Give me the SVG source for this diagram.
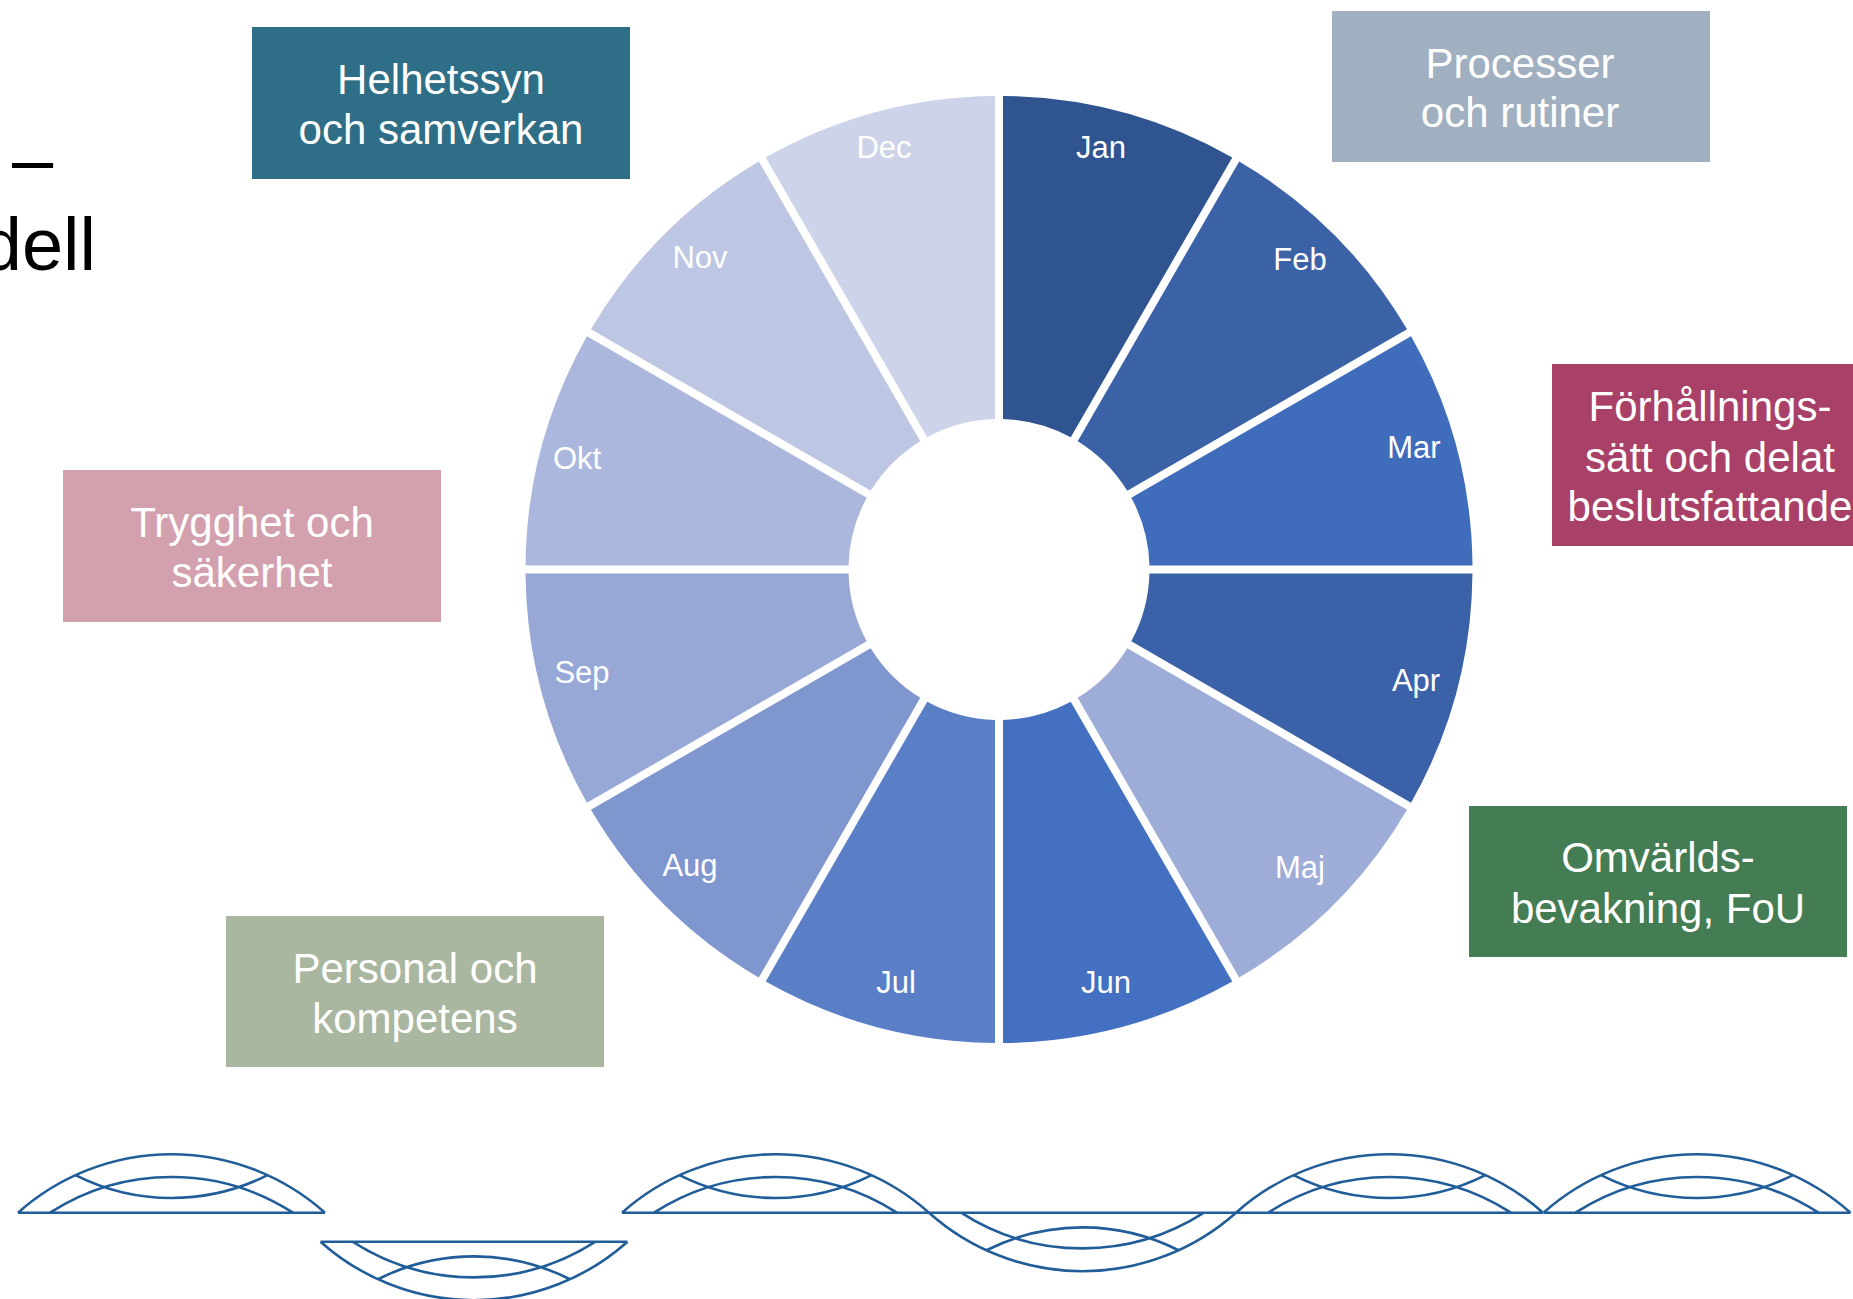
<svg xmlns="http://www.w3.org/2000/svg" xmlns:xlink="http://www.w3.org/1999/xlink" width="1853" height="1299" viewBox="0 0 1853 1299">
<style>
  .month { font-family: "Liberation Sans", Arial, sans-serif; font-size: 31px; fill: #ffffff; text-anchor: middle; }
  .box text { font-family: "Liberation Sans", Arial, sans-serif; font-size: 42px; fill: #ffffff; text-anchor: middle; }
  .title { font-family: "Liberation Sans", Arial, sans-serif; font-size: 74px; fill: #000000; }
  .wave { fill: none; stroke: #215d98; stroke-width: 2.6; }
</style>
<defs>
  <path id="seg" d="M4 -473.483 A473.5 473.5 0 0 1 233.28 -412.05 L71.76 -132.29 A150.5 150.5 0 0 0 4 -150.447 Z"/>
  <path id="arch" d="M-153.5 0 H153.5 M-153.5 0 A230.6 230.6 0 0 1 153.5 0 M-121.5 0 A224.6 224.6 0 0 1 121.5 0 M-96 -37.57 A212.9 212.9 0 0 0 96 -37.57"/>
</defs>
<rect width="1853" height="1299" fill="#ffffff"/>

<g id="title">
  <text class="title" x="12" y="184">–</text>
  <text class="title" x="96" y="270" text-anchor="end">dell</text>
</g>

<g id="wheel">
  <g id="m-jan"><use xlink:href="#seg" href="#seg" fill="#30548f" transform="translate(999 569.5) rotate(0)"/><text class="month" x="1101" y="158">Jan</text></g>
  <g id="m-feb"><use xlink:href="#seg" href="#seg" fill="#3b61a7" transform="translate(999 569.5) rotate(30)"/><text class="month" x="1300" y="270">Feb</text></g>
  <g id="m-mar"><use xlink:href="#seg" href="#seg" fill="#406dbb" transform="translate(999 569.5) rotate(60)"/><text class="month" x="1414" y="458">Mar</text></g>
  <g id="m-apr"><use xlink:href="#seg" href="#seg" fill="#3b62a9" transform="translate(999 569.5) rotate(90)"/><text class="month" x="1416" y="691">Apr</text></g>
  <g id="m-maj"><use xlink:href="#seg" href="#seg" fill="#9eadd7" transform="translate(999 569.5) rotate(120)"/><text class="month" x="1300" y="878">Maj</text></g>
  <g id="m-jun"><use xlink:href="#seg" href="#seg" fill="#4370c0" transform="translate(999 569.5) rotate(150)"/><text class="month" x="1106" y="993">Jun</text></g>
  <g id="m-jul"><use xlink:href="#seg" href="#seg" fill="#5b7fc7" transform="translate(999 569.5) rotate(180)"/><text class="month" x="896" y="993">Jul</text></g>
  <g id="m-aug"><use xlink:href="#seg" href="#seg" fill="#7f96cf" transform="translate(999 569.5) rotate(210)"/><text class="month" x="690" y="876">Aug</text></g>
  <g id="m-sep"><use xlink:href="#seg" href="#seg" fill="#97a8d6" transform="translate(999 569.5) rotate(240)"/><text class="month" x="582" y="683">Sep</text></g>
  <g id="m-okt"><use xlink:href="#seg" href="#seg" fill="#abb7dd" transform="translate(999 569.5) rotate(270)"/><text class="month" x="577" y="469">Okt</text></g>
  <g id="m-nov"><use xlink:href="#seg" href="#seg" fill="#bdc7e3" transform="translate(999 569.5) rotate(300)"/><text class="month" x="700" y="268">Nov</text></g>
  <g id="m-dec"><use xlink:href="#seg" href="#seg" fill="#cdd4ea" transform="translate(999 569.5) rotate(330)"/><text class="month" x="884" y="158">Dec</text></g>
</g>

<g id="box-helhetssyn" class="box">
  <rect x="252" y="27" width="378" height="152" fill="#2e6e86"/>
  <text x="441" y="94">Helhetssyn</text>
  <text x="441" y="144">och samverkan</text>
</g>
<g id="box-processer" class="box">
  <rect x="1332" y="11" width="378" height="151" fill="#a1b0c0"/>
  <text x="1520" y="78">Processer</text>
  <text x="1520" y="127">och rutiner</text>
</g>
<g id="box-forhallning" class="box">
  <rect x="1552" y="364" width="380" height="182" fill="#a94068"/>
  <text x="1710" y="421">Förhållnings-</text>
  <text x="1710" y="472">sätt och delat</text>
  <text x="1710" y="521">beslutsfattande</text>
</g>
<g id="box-trygghet" class="box">
  <rect x="63" y="470" width="378" height="152" fill="#d3a0ae"/>
  <text x="252" y="537">Trygghet och</text>
  <text x="252" y="587">säkerhet</text>
</g>
<g id="box-omvarld" class="box">
  <rect x="1469" y="806" width="378" height="151" fill="#447c53"/>
  <text x="1658" y="872">Omvärlds-</text>
  <text x="1658" y="923">bevakning, FoU</text>
</g>
<g id="box-personal" class="box">
  <rect x="226" y="916" width="378" height="151" fill="#aab7a0"/>
  <text x="415" y="983">Personal och</text>
  <text x="415" y="1033">kompetens</text>
</g>

<g id="waves" class="wave">
  <use xlink:href="#arch" href="#arch" transform="translate(171.5 1212.7)"/>
  <use xlink:href="#arch" href="#arch" transform="translate(474 1241.7) scale(1 -1)"/>
  <use xlink:href="#arch" href="#arch" transform="translate(775.5 1212.7)"/>
  <use xlink:href="#arch" href="#arch" transform="translate(1082.5 1212.7) scale(1 -1)"/>
  <use xlink:href="#arch" href="#arch" transform="translate(1389.5 1212.7)"/>
  <use xlink:href="#arch" href="#arch" transform="translate(1697 1212.7)"/>
</g>
</svg>
